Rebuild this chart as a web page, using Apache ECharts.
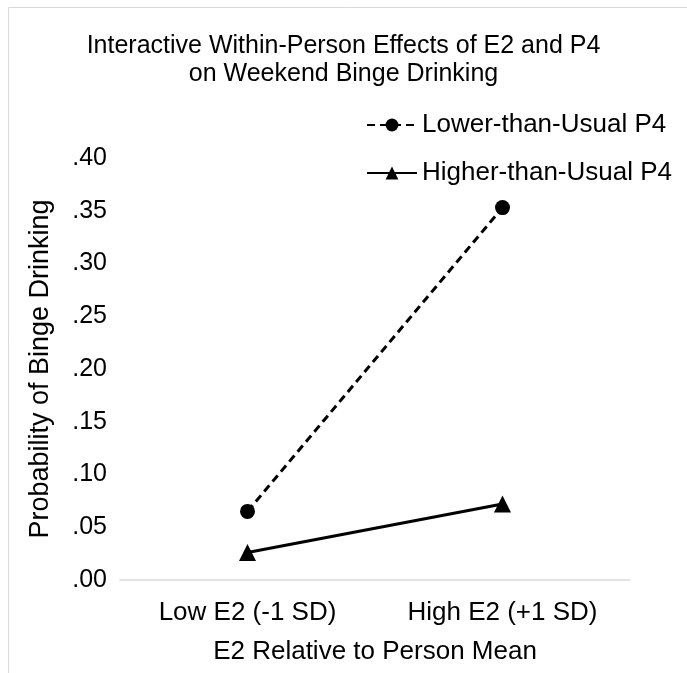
<!DOCTYPE html>
<html>
<head>
<meta charset="utf-8">
<script src="https://cdn.jsdelivr.net/npm/echarts@6/dist/echarts.min.js"></script>
<style>html,body{margin:0;padding:0;background:#fff;}#chart{width:687px;height:673px;}</style>
</head>
<body>
<div id="chart"></div>
<script>
const titleLines = ['Interactive Within-Person Effects of E2 and P4', 'on Weekend Binge Drinking'];
const categories = ['Low E2 (-1 SD)', 'High E2 (+1 SD)'];
const seriesNames = ['Lower-than-Usual P4', 'Higher-than-Usual P4'];
const lowerP4 = [0.065, 0.353];
const higherP4 = [0.026, 0.072];
const yTicks = ['.00', '.05', '.10', '.15', '.20', '.25', '.30', '.35', '.40'];
const xAxisTitle = 'E2 Relative to Person Mean';
const yAxisTitle = 'Probability of Binge Drinking';

const font = 'Liberation Sans, Arial, sans-serif';
const chart = echarts.init(document.getElementById('chart'), null, {renderer: 'canvas'});
chart.setOption({
  animation: false,
  backgroundColor: '#fff',
  textStyle: {fontFamily: font, color: '#000'},
  graphic: [{
    type: 'rect', shape: {x: 8.5, y: 7.5, width: 800, height: 800},
    style: {fill: null, stroke: '#d9d9d9', lineWidth: 1}, silent: true, z: -1
  }],
  title: {
    text: titleLines.join('\n'),
    left: 'center', top: 27,
    textStyle: {fontFamily: font, fontSize: 25, fontWeight: 'normal', color: '#000', lineHeight: 28}
  },
  legend: {
    orient: 'vertical', right: 10, top: 107,
    itemWidth: 50, itemHeight: 16, itemGap: 22,
    textStyle: {fontFamily: font, fontSize: 26, color: '#000'},
    data: seriesNames
  },
  grid: {left: 120, right: 57, top: 158, bottom: 93, containLabel: false},
  xAxis: {
    type: 'category', data: categories, boundaryGap: true,
    axisLine: {lineStyle: {color: '#d9d9d9', width: 1.5}},
    axisTick: {show: false},
    axisLabel: {fontFamily: font, fontSize: 26, color: '#000', margin: 20},
    name: xAxisTitle, nameLocation: 'middle', nameGap: 59,
    nameTextStyle: {fontFamily: font, fontSize: 26, color: '#000'}
  },
  yAxis: {
    type: 'value', min: 0, max: 0.4, interval: 0.05,
    axisLine: {show: false}, axisTick: {show: false}, splitLine: {show: false},
    axisLabel: {fontFamily: font, fontSize: 25, color: '#000', margin: 13,
      formatter: (v) => yTicks[Math.round(v / 0.05)]},
    name: yAxisTitle, nameLocation: 'middle', nameGap: 66,
    nameTextStyle: {fontFamily: font, fontSize: 27, color: '#000'}
  },
  series: [{
    name: seriesNames[0], type: 'line', data: lowerP4,
    symbol: 'circle', symbolSize: 15,
    itemStyle: {color: '#000'},
    lineStyle: {color: '#000', width: 3, type: [8, 5]}
  }, {
    name: seriesNames[1], type: 'line', data: higherP4,
    symbol: 'triangle', symbolSize: 17,
    itemStyle: {color: '#000'},
    lineStyle: {color: '#000', width: 3, type: 'solid'}
  }]
});
</script>
</body>
</html>
